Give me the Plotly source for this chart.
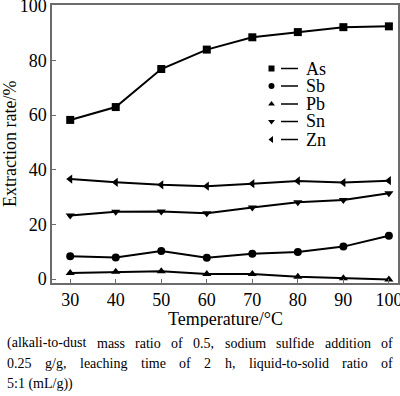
import plotly.graph_objects as go

# ---- data ----
temperature = [30, 40, 50, 60, 70, 80, 90, 100]
as_rate = [58.2, 62.9, 76.8, 83.9, 88.4, 90.3, 92.1, 92.4]
sb_rate = [8.4, 7.9, 10.3, 7.8, 9.3, 9.9, 11.9, 15.9]
pb_rate = [2.3, 2.7, 2.9, 1.9, 1.9, 0.9, 0.3, -0.1]
sn_rate = [23.3, 24.6, 24.7, 24.1, 26.2, 28.1, 28.9, 31.4]
zn_rate = [36.6, 35.4, 34.5, 34.0, 34.9, 35.9, 35.3, 36.0]

series_names = ["As", "Sb", "Pb", "Sn", "Zn"]
series_values = [as_rate, sb_rate, pb_rate, sn_rate, zn_rate]
symbols = ["square", "circle", "triangle-up", "triangle-down", "triangle-left"]
marker_sizes = [8, 8, 8, 8, 8]

x_ticks = [30, 40, 50, 60, 70, 80, 90, 100]
y_ticks = [0, 20, 40, 60, 80, 100]

caption_lines = [
    "(alkali-to-dust mass ratio of 0.5, sodium sulfide addition of",
    "0.25 g/g, leaching time of 2 h, liquid-to-solid ratio of",
    "5:1 (mL/g))",
]

FONT = "Liberation Serif"
W, H = 400, 396
L, R, T, B = 52, 398, 5, 283  # plot area in pixels

fig = go.Figure()
for name, vals, sym, ms in zip(series_names, series_values, symbols, marker_sizes):
    fig.add_trace(go.Scatter(
        x=temperature, y=vals, mode="lines+markers", name=name,
        line=dict(color="black", width=2),
        marker=dict(symbol=sym, size=ms, color="black"),
        showlegend=False,
    ))

def px_x(p):
    return (p - L) / (R - L)

def px_y(p):
    return (B - p) / (B - T)

# ---- manual legend ----
leg_marker_x = 271.5
leg_line_x0, leg_line_x1 = 281, 298
leg_text_x = 305
leg_rows = [68.5, 86, 104, 121.5, 139.5]
shapes = []
annotations = []
for name, sym, py in zip(series_names, symbols, leg_rows):
    fig.add_trace(go.Scatter(
        x=[px_x(leg_marker_x)], y=[px_y(py)], mode="markers",
        marker=dict(symbol=sym, size=6, color="black"),
        xaxis="x2", yaxis="y2", showlegend=False, hoverinfo="skip",
    ))
    shapes.append(dict(type="line", xref="paper", yref="paper",
                       x0=px_x(leg_line_x0), x1=px_x(leg_line_x1),
                       y0=px_y(py), y1=px_y(py),
                       line=dict(color="black", width=1.5)))
    annotations.append(dict(text=name, xref="paper", yref="paper",
                            x=px_x(leg_text_x), y=px_y(py),
                            xanchor="left", yanchor="middle", showarrow=False,
                            borderpad=0, height=16,
                            font=dict(family=FONT, size=18, color="black")))

# ---- axis titles ----
annotations.append(dict(text="Temperature/°C", xref="paper", yref="paper",
                        x=px_x(225), y=px_y(318.5), xanchor="center", yanchor="middle",
                        showarrow=False, borderpad=0, height=17,
                        font=dict(family=FONT, size=18, color="black")))
annotations.append(dict(text="Extraction rate/%", xref="paper", yref="paper",
                        x=px_x(10), y=px_y(144), xanchor="center", yanchor="middle",
                        textangle=-90, showarrow=False,
                        font=dict(family=FONT, size=18, color="black")))

# ---- justified caption ----
char_w = {" ": 250, "(": 333, ")": 333, ",": 250, "-": 333, ".": 250, "/": 278,
          ":": 278, "L": 611, "a": 444, "c": 444, "d": 500, "e": 444, "f": 333,
          "g": 500, "h": 500, "i": 278, "k": 500, "l": 278, "m": 778, "n": 500,
          "o": 500, "q": 500, "r": 333, "s": 389, "t": 278, "u": 500}
for ch in "0123456789":
    char_w[ch] = 500
CAP_SIZE = 14
cap_left, cap_right = 6, 392
cap_rows = [343, 363.5, 384]

def word_width(w):
    return sum(char_w.get(c, 500) for c in w) / 1000 * CAP_SIZE

for i, (line, py) in enumerate(zip(caption_lines, cap_rows)):
    justify = i < len(caption_lines) - 1
    if not justify:
        annotations.append(dict(text=line, xref="paper", yref="paper",
                                x=px_x(cap_left), y=px_y(py), xanchor="left",
                                yanchor="middle", showarrow=False, borderpad=0,
                                font=dict(family=FONT, size=CAP_SIZE, color="black")))
        continue
    words = line.split(" ")
    total = sum(word_width(w) for w in words)
    gap = (cap_right - cap_left - total) / (len(words) - 1)
    xpos = cap_left
    for w in words:
        annotations.append(dict(text=w, xref="paper", yref="paper",
                                x=px_x(xpos), y=px_y(py), xanchor="left",
                                yanchor="middle", showarrow=False, borderpad=0,
                                font=dict(family=FONT, size=CAP_SIZE, color="black")))
        xpos += word_width(w) + gap

axis_color = "#6b6b6b"
axis_common = dict(showgrid=False, zeroline=False, automargin=False,
                   showline=True, linecolor=axis_color, linewidth=1.5, mirror=True,
                   ticks="inside", ticklen=4, tickcolor=axis_color,
                   ticklabeloverflow="allow",
                   tickfont=dict(family=FONT, size=18, color="black"))
fig.update_layout(
    width=W, height=H,
    margin=dict(l=L, r=W - R, t=T, b=H - B, pad=0, autoexpand=False),
    paper_bgcolor="white", plot_bgcolor="white",
    font=dict(family=FONT, size=18, color="black"),
    xaxis=dict(range=[26, 102], tickvals=x_ticks, **axis_common),
    yaxis=dict(range=[-1.4, 100.2], tickvals=y_ticks, **axis_common),
    xaxis2=dict(range=[0, 1], overlaying="x", visible=False, domain=[0, 1]),
    yaxis2=dict(range=[0, 1], overlaying="y", visible=False, domain=[0, 1]),
    shapes=shapes, annotations=annotations, showlegend=False,
)

fig.write_html(
    "out.html",
    config={"displayModeBar": False},
    post_script="document.body.style.margin='0';document.body.style.overflow='hidden';",
)
